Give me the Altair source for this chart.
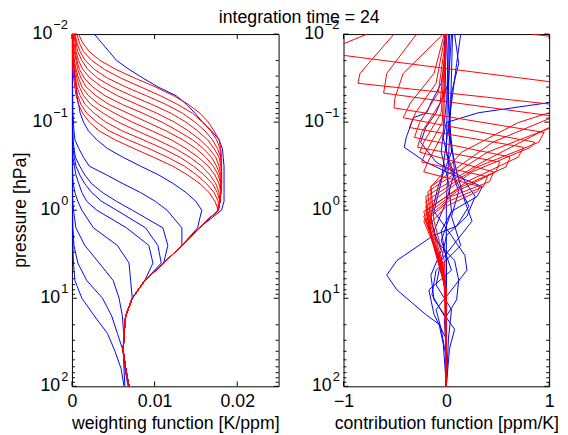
import altair as alt
import pandas as pd

# ---------------- data ----------------
# pressure levels [hPa] of the weighting functions (left panel)
LEVELS_HPA = [0.01, 0.01259, 0.01585, 0.01995, 0.02512, 0.03162, 0.03981, 0.05012, 0.0631, 0.07943,
              0.1, 0.1259, 0.1585, 0.1995, 0.2512, 0.3162, 0.3981, 0.5012, 0.631, 0.7943, 1.0,
              1.585, 2.512, 3.981, 6.31, 10.0, 15.85, 25.12, 39.81, 63.1, 100.0]

# left panel, red curves: upper part (0.01 .. 1 hPa), values in 1e-3 K/ppm
RED_W_UPPER = [
    [0.8, 1.3, 2.1, 3.4, 5.3, 7.6, 10.1, 12.3, 14.1, 15.5, 16.5, 17.2, 17.8, 18.0, 18.1, 18.1, 18.1, 18.1, 18.0, 17.9, 17.7],
    [0.6, 0.9, 1.4, 2.4, 3.9, 5.9, 8.3, 10.7, 12.8, 14.6, 15.8, 16.8, 17.5, 17.9, 18.0, 18.1, 18.1, 18.1, 18.0, 17.9, 17.7],
    [0.4, 0.6, 1.0, 1.6, 2.7, 4.3, 6.5, 9.0, 11.4, 13.4, 14.9, 16.1, 17.0, 17.6, 18.0, 18.1, 18.1, 18.1, 18.0, 17.9, 17.7],
    [0.3, 0.5, 0.7, 1.2, 1.9, 3.1, 4.9, 7.2, 9.7, 12.0, 13.8, 15.2, 16.4, 17.2, 17.8, 18.0, 18.1, 18.1, 18.0, 17.9, 17.7],
    [0.2, 0.4, 0.5, 0.8, 1.3, 2.2, 3.6, 5.5, 7.9, 10.3, 12.4, 14.1, 15.5, 16.6, 17.4, 17.8, 18.0, 18.1, 18.0, 17.9, 17.7],
    [0.15, 0.25, 0.4, 0.6, 0.9, 1.5, 2.5, 4.0, 6.1, 8.6, 10.9, 12.8, 14.6, 15.9, 16.9, 17.5, 17.9, 18.0, 18.0, 17.9, 17.7],
    [0.1, 0.15, 0.3, 0.5, 0.7, 1.1, 1.7, 2.9, 4.5, 6.8, 9.1, 11.4, 13.4, 15.0, 16.2, 17.1, 17.7, 18.0, 18.0, 17.9, 17.7],
    [0.1, 0.1, 0.2, 0.3, 0.5, 0.8, 1.2, 2.0, 3.3, 5.2, 7.3, 9.7, 12.0, 13.8, 15.3, 16.5, 17.3, 17.8, 18.0, 17.9, 17.7],
    [0.05, 0.1, 0.1, 0.2, 0.4, 0.6, 0.9, 1.4, 2.3, 3.8, 5.6, 7.9, 10.3, 12.5, 14.3, 15.7, 16.7, 17.4, 17.8, 17.9, 17.7],
    [0.05, 0.05, 0.1, 0.15, 0.3, 0.45, 0.6, 1.0, 1.6, 2.7, 4.1, 6.1, 8.6, 11.0, 13.1, 14.7, 16.0, 17.0, 17.6, 17.9, 17.7],
    [0.05, 0.05, 0.05, 0.1, 0.15, 0.3, 0.5, 0.7, 1.1, 1.8, 3.0, 4.5, 6.8, 9.3, 11.6, 13.6, 15.1, 16.3, 17.2, 17.7, 17.7],
    [0.05, 0.05, 0.05, 0.1, 0.1, 0.2, 0.35, 0.5, 0.8, 1.3, 2.1, 3.3, 5.2, 7.5, 9.9, 12.2, 14.0, 15.5, 16.6, 17.3, 17.7],
]
# common lower part of the red curves (1.6 .. 100 hPa)
RED_W_LOWER = [15.4, 13.3, 11.1, 8.8, 7.3, 6.5, 6.3, 6.2, 6.5, 6.9]

# left panel, blue curves (all 31 levels), values in 1e-3 K/ppm
BLUE_W = [
    [2.7, 3.6, 4.5, 5.4, 6.9, 8.6, 10.4, 12.6, 13.9, 14.9, 15.8, 16.9, 17.8, 18.2, 18.3, 18.4, 18.4, 18.4, 18.4, 18.4, 18.1,
     15.4, 13.3, 11.1, 8.8, 7.3, 6.5, 6.3, 6.2, 6.5, 6.9],
    [0.06, 0.06, 0.1, 0.2, 0.25, 0.35, 0.5, 0.6, 0.8, 1.0, 1.4, 2.0, 3.0, 4.3, 6.2, 8.3, 10.5, 12.3, 13.8, 15.0, 15.7,
     15.2, 13.3, 11.1, 8.8, 7.3, 6.5, 6.3, 6.2, 6.5, 6.9],
    [0.03, 0.03, 0.03, 0.05, 0.05, 0.06, 0.07, 0.08, 0.1, 0.12, 0.18, 0.24, 0.36, 0.83, 1.4, 2.1, 4.2, 6.2, 8.3, 10.1, 11.5,
     13.3, 13.3, 11.1, 8.8, 7.3, 6.5, 6.3, 6.2, 6.5, 6.9],
    [0.02, 0.02, 0.02, 0.03, 0.03, 0.04, 0.05, 0.05, 0.06, 0.07, 0.08, 0.1, 0.15, 0.24, 0.42, 0.95, 1.55, 2.4, 3.7, 5.4, 7.3,
     11.0, 11.6, 11.1, 8.8, 7.3, 6.5, 6.3, 6.2, 6.5, 6.9],
    [0.02, 0.02, 0.02, 0.02, 0.03, 0.03, 0.03, 0.04, 0.04, 0.05, 0.06, 0.07, 0.09, 0.12, 0.3, 0.48, 0.95, 1.55, 2.4, 3.6, 5.4,
     8.9, 10.4, 10.8, 8.8, 7.3, 6.5, 6.3, 6.2, 6.5, 6.9],
    [0.02, 0.02, 0.02, 0.02, 0.02, 0.02, 0.03, 0.03, 0.03, 0.03, 0.04, 0.05, 0.06, 0.08, 0.12, 0.3, 0.48, 0.83, 1.2, 1.8, 3.0,
     6.6, 9.3, 9.8, 8.8, 7.3, 6.5, 6.3, 6.2, 6.5, 6.9],
    [0.02, 0.02, 0.02, 0.02, 0.02, 0.02, 0.02, 0.02, 0.03, 0.03, 0.03, 0.03, 0.04, 0.05, 0.06, 0.08, 0.1, 0.15, 0.36, 0.71, 1.2,
     2.6, 5.5, 6.9, 7.1, 7.3, 6.5, 6.3, 6.2, 6.5, 6.9],
    [0.02, 0.02, 0.02, 0.02, 0.02, 0.02, 0.02, 0.02, 0.02, 0.02, 0.02, 0.03, 0.03, 0.03, 0.03, 0.04, 0.05, 0.06, 0.08, 0.1, 0.18,
     0.48, 1.55, 3.3, 5.0, 5.7, 6.1, 6.25, 6.2, 6.4, 6.8],
    [0.02, 0.02, 0.02, 0.02, 0.02, 0.02, 0.02, 0.02, 0.02, 0.02, 0.02, 0.02, 0.02, 0.03, 0.03, 0.03, 0.03, 0.04, 0.04, 0.05, 0.06,
     0.12, 0.24, 0.71, 1.8, 3.7, 4.8, 5.5, 6.2, 6.3, 6.4],
    [0.02, 0.02, 0.02, 0.02, 0.02, 0.02, 0.02, 0.02, 0.02, 0.02, 0.02, 0.02, 0.02, 0.02, 0.02, 0.02, 0.03, 0.03, 0.03, 0.03, 0.04,
     0.05, 0.12, 0.18, 0.36, 1.2, 2.7, 4.3, 5.2, 5.95, 6.3],
]

# right panel, red contribution functions: pressure [hPa] and value [ppm/K]
RED_C_P = [
    [0.01, 0.0129, 0.0216, 0.0362, 0.0605, 0.101, 0.219, 0.54, 1.33, 3.72, 10.4, 100],
    [0.01, 0.0129, 0.0147, 0.0412, 0.0689, 0.169, 0.54, 1.33, 4.23, 10.4, 100],
    [0.01, 0.028, 0.0362, 0.0689, 0.101, 0.219, 0.614, 1.51, 4.81, 10.4, 100],
    [0.01, 0.028, 0.0468, 0.0891, 0.115, 0.284, 0.698, 1.72, 5.46, 10.4, 100],
    [0.01, 0.028, 0.0532, 0.0689, 0.131, 0.169, 0.323, 0.793, 1.95, 6.21, 10.4, 100],
    [0.01, 0.028, 0.0605, 0.0891, 0.169, 0.193, 0.367, 0.902, 2.22, 6.21, 10.4, 100],
    [0.01, 0.0362, 0.0783, 0.115, 0.193, 0.249, 0.474, 1.03, 2.52, 7.06, 10.4, 100],
    [0.01, 0.0468, 0.101, 0.149, 0.249, 0.323, 0.54, 1.03, 2.87, 7.06, 100],
    [0.01, 0.0605, 0.131, 0.193, 0.284, 0.367, 0.614, 1.17, 3.26, 8.04, 100],
    [0.01, 0.0783, 0.169, 0.219, 0.367, 0.474, 0.698, 1.33, 3.72, 8.04, 100],
    [0.01, 0.101, 0.219, 0.284, 0.417, 0.54, 0.793, 1.33, 3.72, 8.04, 100],
    [0.01, 0.131, 0.284, 0.367, 0.54, 0.614, 0.902, 1.51, 4.23, 8.04, 100],
]
RED_C_V = [
    [0.83, 1.6, 2.2, 1.8, 1.3, 0.7, 0.15, -0.15, -0.12, -0.02, 0.0, 0.0],
    [-0.77, -1.0, -1.5, 1.5, 1.25, 0.45, -0.15, -0.15, -0.03, 0.0, 0.0],
    [-0.51, -0.84, -0.86, 1.35, 1.15, 0.4, -0.18, -0.15, -0.03, 0.0, 0.0],
    [-0.29, -0.58, -0.61, 1.15, 1.0, 0.35, -0.2, -0.15, -0.03, 0.0, 0.0],
    [-0.03, -0.42, -0.5, -0.51, 0.95, 0.9, 0.3, -0.2, -0.15, -0.03, 0.0, 0.0],
    [-0.02, -0.12, -0.35, -0.42, 0.86, 0.82, 0.25, -0.2, -0.14, -0.03, 0.0, 0.0],
    [-0.01, -0.1, -0.3, -0.36, 0.75, 0.7, 0.2, -0.2, -0.12, -0.02, 0.0, 0.0],
    [0.0, -0.08, -0.26, -0.31, 0.62, 0.58, 0.15, -0.22, -0.1, -0.02, 0.0],
    [0.0, -0.06, -0.24, -0.28, 0.52, 0.48, 0.1, -0.22, -0.08, -0.01, 0.0],
    [0.0, -0.05, -0.22, -0.26, 0.46, 0.42, 0.05, -0.22, -0.06, -0.01, 0.0],
    [0.0, -0.04, -0.2, -0.24, 0.4, 0.36, 0.02, -0.2, -0.05, 0.0, 0.0],
    [0.0, -0.03, -0.18, -0.22, 0.33, 0.3, 0.0, -0.18, -0.04, 0.0, 0.0],
]

# right panel, blue contribution functions
BLUE_C_P = [
    [0.01, 0.0216, 0.0412, 0.0605, 0.0783, 0.101, 0.149, 0.284, 0.793, 100],
    [0.01, 0.0216, 0.0362, 0.0605, 0.0783, 0.0891, 0.149, 0.193, 0.284, 0.367, 0.54, 0.698, 1.03, 1.72, 3.72, 100],
    [0.01, 0.0362, 0.0783, 0.115, 0.169, 0.284, 0.417, 0.698, 1.17, 1.95, 3.72, 8.04, 100],
    [0.01, 0.219, 0.474, 0.902, 1.51, 1.95, 3.72, 5.46, 8.04, 15.3, 19.8, 33.1, 100],
    [0.01, 0.0216, 0.0468, 0.131, 0.367, 0.793, 1.33, 2.22, 3.72, 7.06, 13.4, 29.1, 100],
    [0.01, 0.0216, 0.0605, 0.169, 0.474, 1.03, 1.95, 3.26, 4.81, 8.04, 13.4, 22.5, 48.6, 100],
    [0.01, 0.0605, 0.219, 0.54, 1.17, 2.22, 3.72, 6.21, 10.4, 17.4, 37.6, 100],
    [0.01, 0.101, 0.367, 0.793, 1.72, 2.87, 5.46, 10.4, 22.5, 37.6, 100],
    [0.01, 0.0783, 0.284, 0.614, 1.17, 2.52, 4.81, 9.14, 17.4, 48.6, 100],
    [0.01, 0.0605, 0.219, 0.474, 1.03, 2.22, 4.81, 8.04, 15.3, 29.1, 100],
]
BLUE_C_V = [
    [1.5, 2.0, 1.6, 0.98, 0.31, 0.0, -0.03, 0.02, 0.0, 0.0],
    [0.0, -0.02, -0.05, -0.15, -0.19, -0.32, -0.39, -0.41, -0.2, 0.0, 0.35, 0.3, 0.05, -0.05, 0.0, 0.0],
    [0.05, 0.02, -0.1, -0.2, -0.25, -0.1, 0.15, 0.28, 0.2, 0.0, -0.05, 0.0, 0.0],
    [0.02, 0.0, 0.1, 0.22, 0.1, -0.13, -0.48, -0.58, -0.48, -0.2, -0.07, -0.03, 0.0],
    [0.08, 0.12, 0.05, 0.02, 0.1, 0.18, 0.25, 0.1, -0.05, -0.1, 0.05, 0.02, 0.0],
    [0.14, 0.1, 0.05, 0.0, -0.05, -0.12, 0.05, 0.18, 0.2, 0.05, -0.1, -0.05, 0.0, 0.0],
    [0.03, 0.02, 0.05, -0.08, -0.15, -0.1, 0.08, 0.12, 0.1, -0.02, 0.0, 0.0],
    [0.0, 0.03, 0.08, 0.0, -0.12, -0.05, -0.15, -0.12, 0.08, 0.03, 0.0],
    [0.06, 0.04, 0.02, 0.12, 0.05, 0.14, -0.1, -0.14, 0.0, 0.0, 0.0],
    [-0.02, 0.0, -0.05, 0.02, 0.05, -0.05, 0.05, -0.17, -0.12, 0.0, 0.0],
]

# axis ticks / labels
Y_MAJOR = [0.01, 0.1, 1, 10, 100]
Y_EXP = ["\u22122", "\u22121", "0", "1", "2"]
Y_MINOR = [0.02, 0.03, 0.04, 0.05, 0.06, 0.07, 0.08, 0.09,
           0.2, 0.3, 0.4, 0.5, 0.6, 0.7, 0.8, 0.9,
           2, 3, 4, 5, 6, 7, 8, 9,
           20, 30, 40, 50, 60, 70, 80, 90]
X_TICKS_LEFT = [0, 0.01, 0.02]
X_TICKS_RIGHT = [-1, 0, 1]
TITLE = "integration time = 24"
YTITLE = "pressure [hPa]"
XTITLE_LEFT = "weighting function [K/ppm]"
XTITLE_RIGHT = "contribution function [ppm/K]"

# ---------------- build tables ----------------
rows = []
for i, vals in enumerate(BLUE_W):
    for p, v in zip(LEVELS_HPA, vals):
        rows.append({"line": f"b{i}", "p": p, "v": v / 1000.0})
df_left_blue = pd.DataFrame(rows)
rows = []
for i, up in enumerate(RED_W_UPPER):
    for p, v in zip(LEVELS_HPA, up + RED_W_LOWER):
        rows.append({"line": f"r{i}", "p": p, "v": v / 1000.0})
df_left_red = pd.DataFrame(rows)


def long_df(P, V, tag):
    r = []
    for i, (ps, vs) in enumerate(zip(P, V)):
        for p, v in zip(ps, vs):
            r.append({"line": f"{tag}{i}", "p": p, "v": v})
    return pd.DataFrame(r)


df_right_blue = long_df(BLUE_C_P, BLUE_C_V, "b")
df_right_red = long_df(RED_C_P, RED_C_V, "r")

df_ylab = pd.DataFrame({"p": Y_MAJOR, "base": ["10"] * len(Y_MAJOR), "exp": Y_EXP})
df_ylab["neg"] = df_ylab["exp"].str.startswith("\u2212")
df_ylab_neg = df_ylab[df_ylab["neg"]]
df_ylab_pos = df_ylab[~df_ylab["neg"]]

BLUE = "#0000ff"
RED = "#ff0000"
FONT = "Liberation Sans"
H = 358


def panel(df_b, df_r, xdomain, xticks, xtitle, width, extra=None):
    xs = alt.Scale(domain=xdomain, nice=False, zero=False)
    ys = alt.Scale(type="log", domain=[0.01, 100], reverse=True, nice=False)
    xaxis = alt.Axis(values=xticks, format="~g", ticks=False, domain=False, grid=False,
                     labelFontSize=18, labelColor="black", labelPadding=6,
                     labelFlush=False, labelOverlap=False,
                     title=xtitle, titleFontSize=18, titleFontWeight="normal",
                     titleColor="black", titlePadding=5)
    X = alt.X("v:Q", scale=xs, axis=xaxis)
    Y = alt.Y("p:Q", scale=ys, axis=None)

    blue = alt.Chart(df_b).mark_line(clip=True, color=BLUE, strokeWidth=1).encode(
        x=X, y=Y, detail="line:N", order=alt.Order("p:Q"))
    red = alt.Chart(df_r).mark_line(clip=True, color=RED, strokeWidth=1).encode(
        x=X, y=Y, detail="line:N", order=alt.Order("p:Q"))

    dmaj = pd.DataFrame({"p": Y_MAJOR})
    dmin = pd.DataFrame({"p": Y_MINOR})
    tick_style = dict(color="black", strokeWidth=1)
    ymaj_l = alt.Chart(dmaj).mark_rule(**tick_style).encode(y=Y, x=alt.value(0), x2=alt.value(5))
    ymaj_r = alt.Chart(dmaj).mark_rule(**tick_style).encode(y=Y, x=alt.value(width - 5), x2=alt.value(width))
    ymin_l = alt.Chart(dmin).mark_rule(**tick_style).encode(y=Y, x=alt.value(0), x2=alt.value(3))
    ymin_r = alt.Chart(dmin).mark_rule(**tick_style).encode(y=Y, x=alt.value(width - 3), x2=alt.value(width))
    dxt = pd.DataFrame({"v": xticks})
    xt_b = alt.Chart(dxt).mark_rule(**tick_style).encode(x=X, y=alt.value(H), y2=alt.value(H - 5))
    xt_t = alt.Chart(dxt).mark_rule(**tick_style).encode(x=X, y=alt.value(0), y2=alt.value(5))

    lab_n = alt.Chart(df_ylab_neg).mark_text(align="right", baseline="middle", fontSize=18, color="black").encode(
        y=Y, text="base:N", x=alt.value(-20))
    exp_n = alt.Chart(df_ylab_neg).mark_text(align="left", baseline="middle", fontSize=13, color="black", dy=-9).encode(
        y=Y, text="exp:N", x=alt.value(-19))
    lab_p = alt.Chart(df_ylab_pos).mark_text(align="right", baseline="middle", fontSize=18, color="black").encode(
        y=Y, text="base:N", x=alt.value(-12))
    exp_p = alt.Chart(df_ylab_pos).mark_text(align="left", baseline="middle", fontSize=13, color="black", dy=-9).encode(
        y=Y, text="exp:N", x=alt.value(-11))

    layers = [ymin_l, ymin_r, ymaj_l, ymaj_r, xt_b, xt_t, blue, red, lab_n, exp_n, lab_p, exp_p]
    if extra:
        layers += extra
    return alt.layer(*layers).properties(width=width, height=H)


ytitle = alt.Chart(pd.DataFrame({"t": [YTITLE]})).mark_text(
    angle=270, align="center", baseline="middle", fontSize=18, color="black").encode(
    text="t:N", x=alt.value(-52), y=alt.value(H / 2))
title = alt.Chart(pd.DataFrame({"t": [TITLE]})).mark_text(
    align="center", baseline="middle", fontSize=18, color="black").encode(
    text="t:N", x=alt.value(231), y=alt.value(-16))

left = panel(df_left_blue, df_left_red, [0, 0.025], X_TICKS_LEFT, XTITLE_LEFT, 210, [ytitle, title])
right = panel(df_right_blue, df_right_red, [-1, 1], X_TICKS_RIGHT, XTITLE_RIGHT, 209)

chart = alt.hconcat(left, right, spacing=66, bounds="flush").properties(
    padding={"left": 3, "top": -3, "right": 0, "bottom": 0}
).configure(font=FONT).configure_view(stroke="black", strokeWidth=1)

chart.save("out.html", embed_options={"renderer": "svg", "actions": False})
